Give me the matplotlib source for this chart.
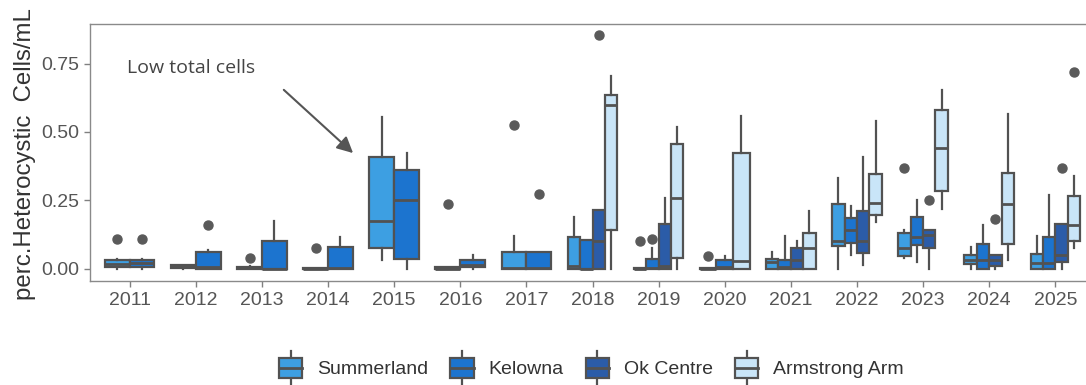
import matplotlib
matplotlib.use('Agg')
import matplotlib.pyplot as plt
from matplotlib.patches import Rectangle
from matplotlib.lines import Line2D
from matplotlib.legend_handler import HandlerBase

years = list(range(2011, 2026))
sites = ['Summerland', 'Kelowna', 'Ok Centre', 'Armstrong Arm']
colors = ['#3d9fe2', '#1c74cf', '#2b5ca8', '#c9e5f8']

# (year, whisker low, q1, median, q3, whisker high)
summerland = [
    (2011, 0.0, 0.005, 0.018, 0.03, 0.035),
    (2012, 0.0, 0.002, 0.01, 0.015, 0.015),
    (2013, 0.0, 0.0, 0.003, 0.008, 0.01),
    (2014, 0.0, 0.0, 0.0, 0.004, 0.004),
    (2015, 0.03, 0.075, 0.175, 0.41, 0.555),
    (2016, 0.0, 0.0, 0.0, 0.006, 0.006),
    (2017, 0.0, 0.0, 0.002, 0.06, 0.12),
    (2018, 0.0, 0.0, 0.01, 0.115, 0.19),
    (2019, 0.0, 0.0, 0.0, 0.004, 0.004),
    (2020, 0.0, 0.0, 0.0, 0.004, 0.004),
    (2021, 0.0, 0.0, 0.025, 0.037, 0.06),
    (2022, 0.0, 0.083, 0.10, 0.235, 0.33),
    (2023, 0.04, 0.048, 0.077, 0.13, 0.14),
    (2024, 0.0, 0.017, 0.03, 0.05, 0.08),
    (2025, 0.0, 0.0, 0.02, 0.055, 0.12),
]
kelowna = [
    (2011, 0.0, 0.005, 0.02, 0.033, 0.035),
    (2012, 0.0, 0.0, 0.005, 0.06, 0.07),
    (2013, 0.0, 0.0, 0.0, 0.10, 0.175),
    (2014, 0.0, 0.0, 0.003, 0.08, 0.115),
    (2015, 0.0, 0.035, 0.25, 0.36, 0.425),
    (2016, 0.0, 0.005, 0.012, 0.03, 0.05),
    (2017, 0.0, 0.0, 0.003, 0.06, 0.06),
    (2018, 0.0, 0.0, 0.0, 0.105, 0.105),
    (2019, 0.0, 0.0, 0.003, 0.035, 0.075),
    (2020, 0.0, 0.0, 0.005, 0.03, 0.045),
    (2021, 0.0, 0.0, 0.005, 0.03, 0.12),
    (2022, 0.05, 0.094, 0.14, 0.185, 0.23),
    (2023, 0.025, 0.085, 0.115, 0.19, 0.25),
    (2024, 0.0, 0.0, 0.03, 0.09, 0.16),
    (2025, 0.0, 0.0, 0.02, 0.115, 0.27),
]
ok_centre = [
    (2018, 0.0, 0.0, 0.10, 0.215, 0.215),
    (2019, 0.0, 0.0, 0.01, 0.165, 0.26),
    (2021, 0.0, 0.0, 0.03, 0.075, 0.10),
    (2022, 0.013, 0.057, 0.10, 0.21, 0.41),
    (2023, 0.0, 0.077, 0.125, 0.143, 0.143),
    (2024, 0.0, 0.01, 0.03, 0.05, 0.05),
    (2025, 0.0, 0.025, 0.05, 0.165, 0.165),
]
armstrong = [
    (2018, 0.0, 0.14, 0.60, 0.635, 0.705),
    (2019, 0.0, 0.04, 0.26, 0.455, 0.52),
    (2020, 0.0, 0.0, 0.028, 0.425, 0.56),
    (2021, 0.0, 0.0, 0.075, 0.13, 0.21),
    (2022, 0.17, 0.197, 0.24, 0.345, 0.54),
    (2023, 0.217, 0.285, 0.44, 0.58, 0.655),
    (2024, 0.03, 0.09, 0.235, 0.35, 0.565),
    (2025, 0.074, 0.10, 0.16, 0.265, 0.34),
]

# outliers (year, value)
summerland_out = [(2011, 0.107), (2013, 0.04), (2014, 0.075), (2016, 0.235),
                  (2017, 0.525), (2019, 0.10), (2020, 0.045), (2023, 0.37)]
kelowna_out = [(2011, 0.107), (2012, 0.16), (2017, 0.275), (2019, 0.11)]
ok_centre_out = [(2018, 0.855), (2023, 0.25), (2024, 0.18), (2025, 0.37)]
armstrong_out = [(2025, 0.72)]

box_stats = [summerland, kelowna, ok_centre, armstrong]
outliers = [summerland_out, kelowna_out, ok_centre_out, armstrong_out]

edge = '#525252'
plt.rcParams['font.family'] = ['Liberation Sans', 'DejaVu Sans']

fig = plt.figure(figsize=(10.86, 3.85), dpi=100)
ax = fig.add_axes([90 / 1086, 1 - 281 / 385, 1005 / 1086, 257 / 385])

for year in years:
    present = [i for i in range(len(sites)) if year in [r[0] for r in box_stats[i]]]
    w = 0.75 / len(present)
    for k, i in enumerate(present):
        row = [r for r in box_stats[i] if r[0] == year][0]
        st = dict(whislo=row[1], q1=row[2], med=row[3], q3=row[4], whishi=row[5],
                  fliers=[v for (y, v) in outliers[i] if y == year])
        pos = year - 0.375 + w * (k + 0.5)
        ax.bxp([st], positions=[pos], widths=[w], patch_artist=True, showcaps=False,
               boxprops=dict(facecolor=colors[i], edgecolor=edge, linewidth=1.6),
               medianprops=dict(color=edge, linewidth=2),
               whiskerprops=dict(color=edge, linewidth=1.6),
               flierprops=dict(marker='o', markerfacecolor='#5a5a5a', markeredgecolor='#5a5a5a',
                               markersize=6.5))

ax.set_xlim(2010.4, 2025.6)
ax.set_ylim(-0.045, 0.895)
ax.set_xticks(years)
ax.set_xticklabels([str(y) for y in years])
ax.set_yticks([0, 0.25, 0.5, 0.75])
ax.set_yticklabels(['0.00', '0.25', '0.50', '0.75'])
ax.tick_params(length=4, width=1, color='#808080', labelsize=14, labelcolor='#555555', pad=4)
for sp in ax.spines.values():
    sp.set_color('#8a8a8a')
    sp.set_linewidth(1)

fig.text(25 / 1086, 1 - 300 / 385, 'perc.Heterocystic  Cells/mL', rotation=90,
         rotation_mode='anchor', ha='left', va='center', fontsize=17.3, color='#333333')

# annotation
ax.text(2011.93, 0.734, 'Low total cells', ha='center', va='center', fontsize=14,
        color='#444444', family=['Open Sans', 'DejaVu Sans'])
ax.annotate('', xy=(2014.41, 0.416), xytext=(2013.30, 0.661),
            arrowprops=dict(arrowstyle='-|>', color='#555555', lw=1.5, mutation_scale=24))


class BoxHandler(HandlerBase):
    def create_artists(self, legend, orig_handle, xdescent, ydescent, width, height, fontsize, trans):
        x0 = -xdescent
        y0 = -ydescent
        fc = orig_handle.get_facecolor()
        bw = width * 0.8
        bx = x0 + (width - bw) / 2
        bh = height * 0.8
        by = y0 + (height - bh) / 2
        cx = x0 + width / 2
        rect = Rectangle((bx, by), bw, bh, facecolor=fc, edgecolor=edge, lw=1.6, transform=trans)
        med = Line2D([bx, bx + bw], [by + bh / 2] * 2, color=edge, lw=2, transform=trans)
        w1 = Line2D([cx, cx], [y0 - height * 0.2, by], color=edge, lw=1.6, transform=trans)
        w2 = Line2D([cx, cx], [by + bh, y0 + height * 1.2], color=edge, lw=1.6, transform=trans)
        return [w1, w2, rect, med]


handles = [Rectangle((0, 0), 1, 1, facecolor=c) for c in colors]
fig.legend(handles, sites, handler_map={Rectangle: BoxHandler()}, loc='center',
           bbox_to_anchor=(0.543, 1 - 368 / 385), ncol=4, frameon=False, fontsize=14,
           handlelength=1.5, handleheight=1.6, handletextpad=0.6, columnspacing=1.0,
           labelcolor='#333333')

fig.savefig('out.png', dpi=100)
